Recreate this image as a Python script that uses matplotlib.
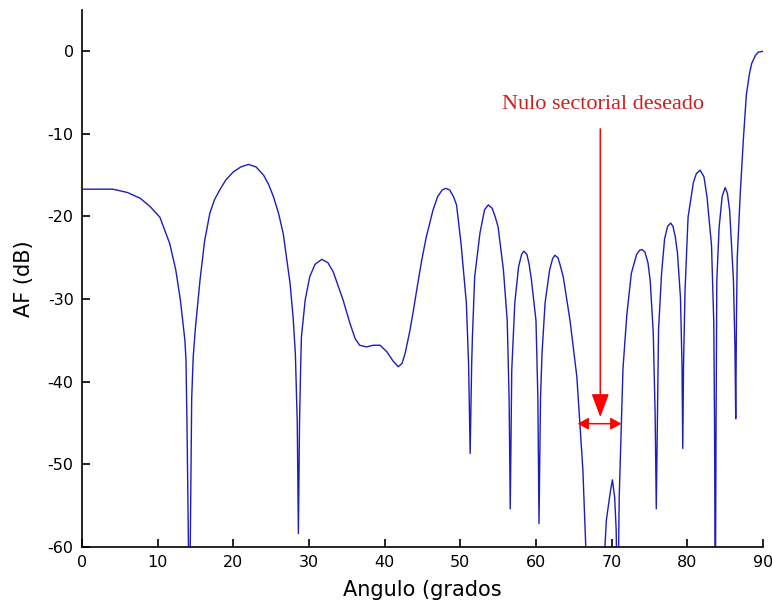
import numpy as np
import matplotlib
matplotlib.use("Agg")
import matplotlib.pyplot as plt

plt.rcParams['axes.unicode_minus'] = False

# Patron de radiacion
angulo = [0.0, 2.0, 4.1, 6.0, 7.7, 9.0, 10.3, 11.6, 12.4, 13.0, 13.6, 13.75, 13.9,
          14.2, 14.5, 14.7, 15.0, 15.6, 16.2, 16.9, 17.5, 18.2, 19.0, 20.0, 21.0, 22.0,
          23.0, 24.0, 24.7, 25.3, 26.0, 26.6, 27.5, 27.9, 28.2, 28.45, 28.6, 28.75,
          28.9, 29.0, 29.5, 30.1, 30.8, 31.7, 32.5, 33.2, 34.5, 35.4, 36.1, 36.7,
          37.6, 38.5, 39.4, 40.3, 41.1, 41.8, 42.3, 42.7, 43.3, 43.8, 44.4, 44.9,
          45.5, 46.4, 47.0, 47.6, 48.1, 48.6, 49.1, 49.5, 50.1, 50.8, 51.1, 51.3,
          51.5, 51.6, 51.9, 52.6, 53.2, 53.7, 54.2, 54.6, 55.0, 55.7, 56.2, 56.45,
          56.6, 56.75, 56.8, 57.2, 57.7, 58.1, 58.4, 58.8, 59.1, 59.4, 60.0, 60.25,
          60.4, 60.6, 60.8, 61.2, 61.8, 62.2, 62.5, 62.9, 63.2, 63.6, 64.5, 65.4,
          65.8, 66.2, 66.6, 67.0, 68.0, 69.0, 69.3, 69.8, 70.1, 70.4, 70.6, 70.8,
          71.0, 71.3, 71.5, 72.0, 72.6, 73.3, 73.7, 74.0, 74.4, 74.8, 75.1, 75.5,
          75.75, 75.9, 76.05, 76.2, 76.6, 77.0, 77.4, 77.8, 78.1, 78.4, 78.7, 79.1,
          79.3, 79.4, 79.5, 79.7, 80.1, 80.8, 81.2, 81.7, 82.2, 82.6, 83.2, 83.5,
          83.6, 83.7, 83.8, 83.9, 84.2, 84.6, 85.0, 85.3, 85.6, 86.1, 86.3, 86.4,
          86.5, 86.6, 87.0, 87.4, 87.8, 88.2, 88.5, 89.0, 89.4, 90.0]
af_db = [-16.7, -16.7, -16.7, -17.1, -17.8, -18.8, -20.1, -23.3, -26.5, -30.1, -35.0, -37.5, -46.7,
         -70.0, -42.0, -37.0, -33.4, -27.7, -23.0, -19.6, -18.0, -16.8, -15.6, -14.6, -14.0, -13.7,
         -14.0, -15.0, -16.2, -17.6, -19.7, -22.1, -28.1, -32.2, -36.6, -45.0, -58.4, -45.0,
         -38.2, -34.6, -30.1, -27.3, -25.8, -25.2, -25.6, -26.7, -30.1, -32.9, -34.8, -35.6,
         -35.8, -35.6, -35.6, -36.4, -37.5, -38.2, -37.8, -36.6, -34.0, -31.4, -28.0, -25.3,
         -22.5, -19.2, -17.6, -16.8, -16.6, -16.8, -17.6, -18.6, -23.3, -30.5, -38.0, -48.7,
         -38.0, -34.6, -27.3, -22.0, -19.2, -18.6, -19.0, -20.0, -21.3, -26.5, -32.6, -42.0,
         -55.4, -42.0, -38.6, -30.5, -26.1, -24.6, -24.2, -24.6, -25.8, -27.7, -32.6, -42.0,
         -57.2, -42.0, -36.6, -30.5, -26.5, -25.1, -24.7, -25.0, -25.9, -27.3, -32.6, -39.4,
         -45.1, -50.7, -60.5, -66.0, -72.0, -62.0, -56.8, -53.5, -51.9, -54.0, -58.0, -70.0,
         -54.0, -44.7, -38.4, -32.0, -26.9, -24.6, -24.1, -24.0, -24.3, -25.6, -27.8, -34.1,
         -44.0, -55.4, -44.0, -33.7, -26.9, -22.7, -21.2, -20.8, -21.2, -22.4, -24.4, -29.9,
         -38.0, -48.1, -38.0, -29.0, -20.1, -15.9, -14.8, -14.4, -15.2, -17.6, -23.5, -32.9,
         -45.0, -70.0, -45.0, -27.8, -21.4, -17.6, -16.5, -17.2, -19.3, -27.8, -36.0, -44.5,
         -32.0, -25.0, -17.2, -10.8, -5.3, -2.8, -1.5, -0.5, -0.1, 0.0]

texto_nulo = "Nulo sectorial deseado"
nulo_inicio, nulo_fin = 65.5, 71.3

fig = plt.figure(figsize=(7.72, 6.07), dpi=100)
ax = fig.add_axes([0.1062, 0.0993, 0.8821, 0.8842])

ax.plot(angulo, af_db, color='#1c1cc0', lw=1.0)

ax.set_xlim(0, 90)
ax.set_ylim(-60, 5)
ax.set_xticks(np.arange(0, 91, 10))
ax.set_yticks(np.arange(-60, 1, 10))
ax.spines['top'].set_visible(False)
ax.spines['right'].set_visible(False)
for s in ['left', 'bottom']:
    ax.spines[s].set_linewidth(1.2)
ax.tick_params(direction='in', length=5.5, width=1.2, labelsize=11.5, pad=6)
ax.set_xlabel("Angulo (grados", fontsize=15, labelpad=7)
ax.set_ylabel("AF (dB)", fontsize=15, labelpad=10)

# Anotacion del nulo
ax.text(68.85, -6.5, texto_nulo, color='#cc1f1f', fontsize=16,
        family=['Liberation Serif', 'DejaVu Serif'], ha='center', va='center')
ax.annotate('', xy=(68.5, -44.3), xytext=(68.5, -9.4),
            arrowprops=dict(arrowstyle='-|>,head_length=0.72,head_width=0.27',
                            mutation_scale=20, color='red', lw=1.1,
                            shrinkA=0, shrinkB=0))
ax.annotate('', xy=(nulo_fin, -45.1), xytext=(nulo_inicio, -45.1),
            arrowprops=dict(arrowstyle='<|-|>,head_length=0.65,head_width=0.36',
                            mutation_scale=10, color='red', lw=1.1,
                            shrinkA=0, shrinkB=0))

fig.savefig("out.png", dpi=100)
